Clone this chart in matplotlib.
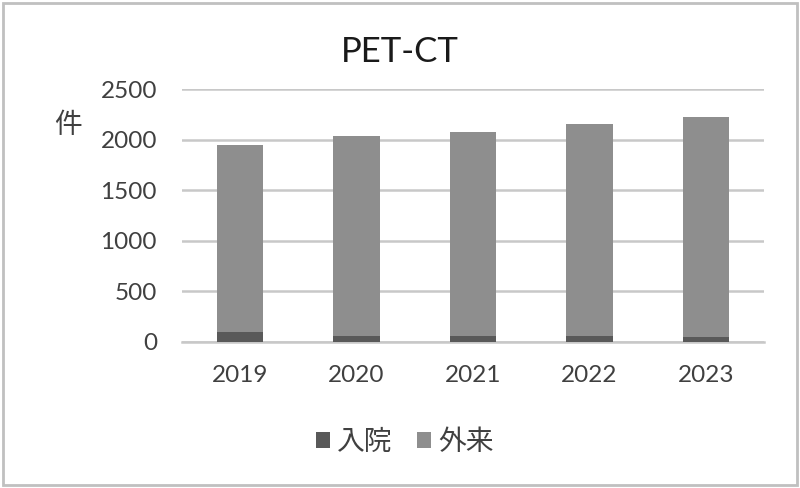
import numpy as np
import matplotlib.pyplot as plt
from matplotlib.patches import Rectangle

plt.rcParams['font.family'] = ['Lato', 'Noto Sans CJK JP', 'DejaVu Sans']

years = ['2019', '2020', '2021', '2022', '2023']
inpatient = [95, 60, 60, 60, 45]        # 入院
outpatient = [1853, 1974, 2017, 2090, 2174]  # 外来

c_in = '#595959'
c_out = '#8e8e8e'
txt = '#404040'

fig = plt.figure(figsize=(8, 4.88), dpi=100)
ax = fig.add_axes([0.2275, 0.2998, 0.7275, 0.5178])

x = np.arange(len(years))
ax.bar(x, inpatient, width=0.4, color=c_in, label='入院', zorder=3)
ax.bar(x, outpatient, width=0.4, bottom=inpatient, color=c_out, label='外来', zorder=3)

ax.set_xlim(-0.5, len(years) - 0.5)
ax.set_ylim(0, 2500)
ax.set_yticks(np.arange(0, 2501, 500))
ax.set_xticks(x)
ax.set_xticklabels(years)
ax.yaxis.grid(True, color='#c8c8c8', linewidth=1.8, zorder=0)
for s in ['top', 'right', 'left']:
    ax.spines[s].set_visible(False)
ax.spines['bottom'].set_color('#c8c8c8')
ax.spines['bottom'].set_linewidth(1.8)
ax.tick_params(axis='both', length=0, labelsize=17.5, colors=txt)
ax.tick_params(axis='y', pad=18)
ax.tick_params(axis='x', pad=17)

fig.text(400 / 800, 1 - 52 / 488, 'PET-CT', ha='center', va='center',
         fontsize=25, color='#1a1a1a')
fig.text(68 / 800, 1 - 125 / 488, '件', ha='center', va='center',
         fontsize=20, color=txt)

fig.legend(loc='center', bbox_to_anchor=(405 / 800, 1 - 442 / 488), ncol=2,
           frameon=False, fontsize=20, handlelength=0.5, handleheight=0.5,
           handletextpad=0.25, columnspacing=0.9, labelcolor=txt)

fig.patches.append(Rectangle((3 / 800, 3 / 488), 794 / 800, 482 / 488,
                             transform=fig.transFigure, fill=False,
                             edgecolor='#c0c0c0', linewidth=2))

fig.savefig('out.png', dpi=100)
